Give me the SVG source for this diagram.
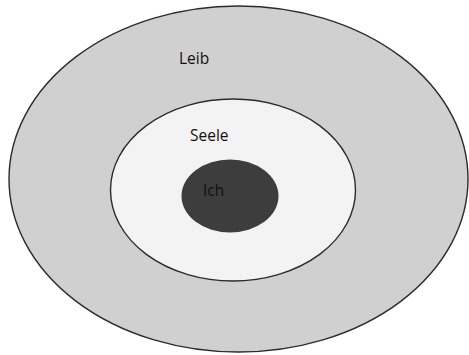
<svg xmlns="http://www.w3.org/2000/svg" width="469" height="355" viewBox="0 0 469 355">
  <style>
    .ring { stroke: #2b2b2b; stroke-width: 1.4; }
    .label { font-family: "Open Sans", "Liberation Sans", sans-serif; font-size: 15.5px; fill: #111; }
  </style>
  <rect width="469" height="355" fill="#ffffff"/>
  <g id="leib">
    <ellipse class="ring" cx="238.5" cy="179" rx="229.5" ry="173" fill="#d0d0d0"/>
    <text class="label" x="179" y="64">Leib</text>
  </g>
  <g id="seele">
    <ellipse class="ring" cx="233" cy="190" rx="122.5" ry="91" fill="#f3f3f3"/>
    <text class="label" x="190" y="141">Seele</text>
  </g>
  <g id="ich">
    <ellipse cx="230" cy="196" rx="48.5" ry="36.5" fill="#3d3d3d"/>
    <text class="label" x="203" y="196">Ich</text>
  </g>
</svg>
